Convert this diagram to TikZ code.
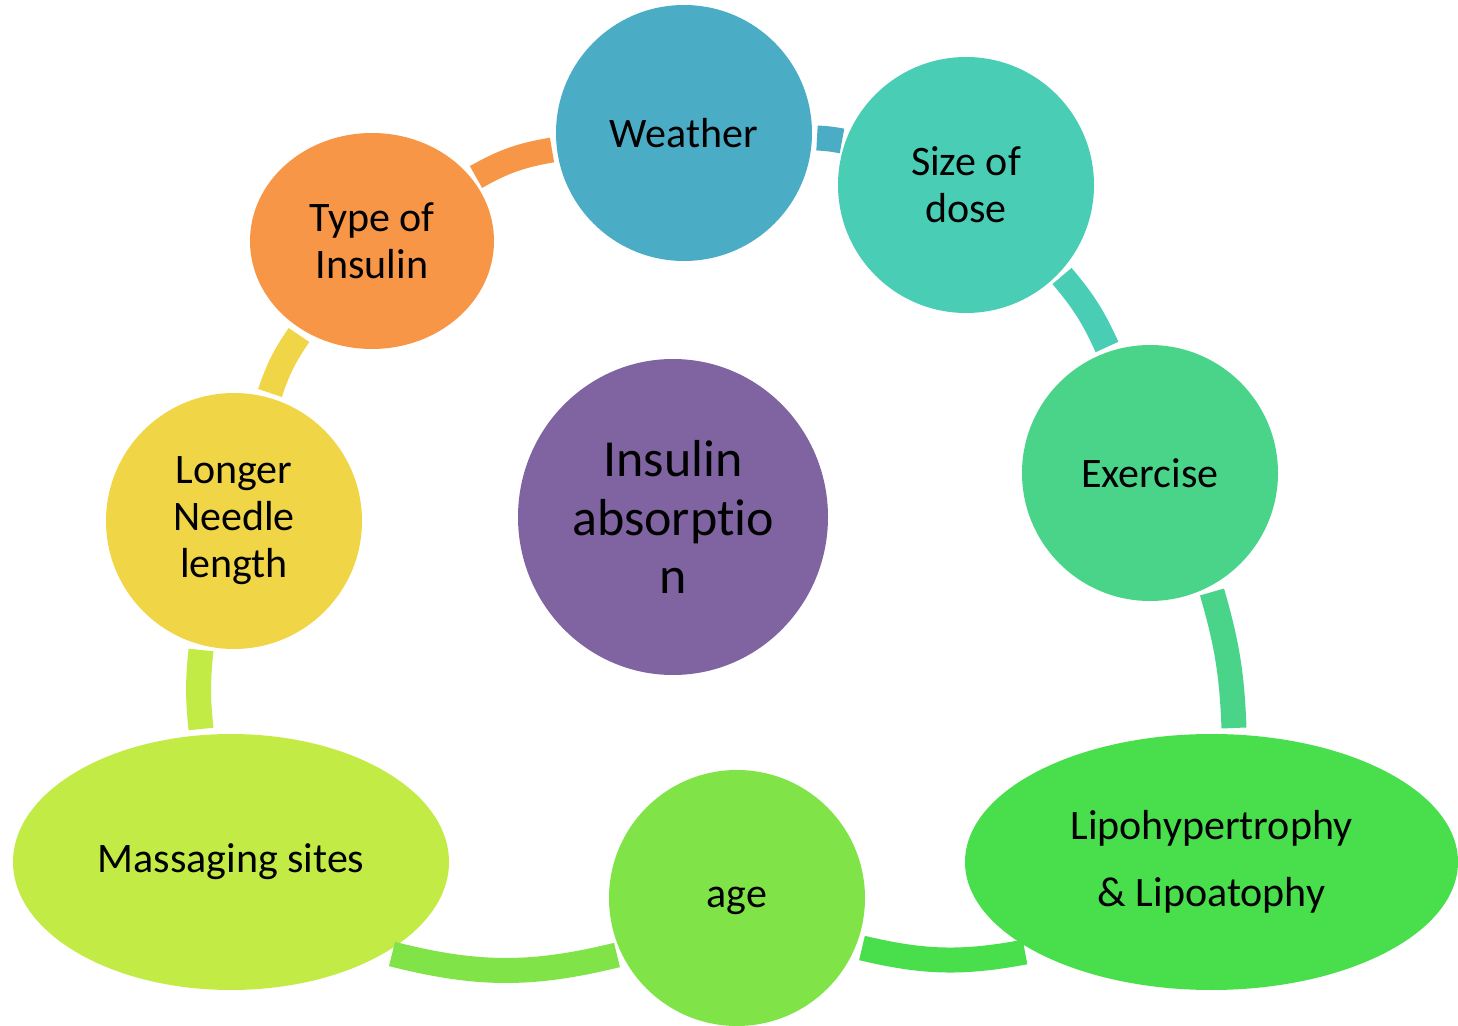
\documentclass[tikz,border=0pt]{standalone}
\usepackage{fontspec}
\setmainfont{Carlito}[Ligatures=NoCommon]
\usetikzlibrary{shapes.geometric}
\definecolor{cWea}{HTML}{4BACC6}
\definecolor{cSiz}{HTML}{4ACDB5}
\definecolor{cExe}{HTML}{49D48A}
\definecolor{cLip}{HTML}{49DE4C}
\definecolor{cAge}{HTML}{80E448}
\definecolor{cMas}{HTML}{C3EB46}
\definecolor{cLon}{HTML}{F0D647}
\definecolor{cTyp}{HTML}{F79646}
\definecolor{cCen}{HTML}{8064A2}
\tikzset{
  bubble/.style={circle, minimum size=128pt, inner sep=0pt, align=center,
    font=\fontsize{21}{23.5}\selectfont, text=black},
  oval/.style={ellipse, inner sep=0pt, align=center,
    font=\fontsize{21}{23.5}\selectfont, text=black},
  band/.style={line width=12.5pt, line cap=butt}
}
\begin{document}
\begin{tikzpicture}[x=0.5pt,y=-0.5pt]
\path[use as bounding box] (0,0) rectangle (1458,1026);
% nodes
\node[bubble, fill=cWea] (wea) at (684,133) {Weather};
\node[bubble, fill=cSiz] (siz) at (966,185) {Size of\\dose};
\node[bubble, fill=cExe] (exe) at (1150,473) {Exercise};
\node[oval, fill=cLip, minimum width=246.5pt, minimum height=128pt,
  font=\fontsize{21}{33.5}\selectfont] (lip) at (1211.5,862) {Lipohypertrophy\\\& Lipoatophy};
\node[bubble, fill=cAge] (age) at (737,898) {age\vphantom{A}};
\node[oval, fill=cMas, minimum width=218pt, minimum height=128pt] (mas) at (231,862) {Massaging sites};
\node[bubble, fill=cLon] (lon) at (234,521) {Longer\\Needle\\length};
\node[oval, fill=cTyp, minimum width=122pt, minimum height=108pt] (typ) at (372,241) {Type of\\Insulin};
\node[oval, fill=cCen, minimum width=155pt, minimum height=158pt,
  font=\fontsize{26}{29.25}\selectfont] (cen) at (673,517) {Insulin\\absorpt\kern0pt io\\n};
% connector end points
\coordinate (a1) at (476,177); \coordinate (b1) at (552,150);
\coordinate (a2) at (817,138); \coordinate (b2) at (842,141);
\coordinate (a3) at (1062,276); \coordinate (b3) at (1107,347);
\coordinate (a4) at (1212,592); \coordinate (b4) at (1234,728);
\coordinate (a5) at (1025,952); \coordinate (b5) at (862,948);
\coordinate (a6) at (617,955); \coordinate (b6) at (392,954);
\coordinate (a7) at (201,729); \coordinate (b7) at (201,650);
\coordinate (a8) at (270,393); \coordinate (b8) at (299,335);
% connectors
\draw[band, cTyp] (a1) to[bend left=10] (b1);
\draw[band, cWea] (a2) to[bend left=4] (b2);
\draw[band, cSiz] (a3) to[bend left=8] (b3);
\draw[band, cExe] (a4) to[bend left=7] (b4);
\draw[band, cLip] (a5) to[bend left=12] (b5);
\draw[band, cAge] (a6) to[bend left=14] (b6);
\draw[band, cMas] (a7) to[bend left=6] (b7);
\draw[band, cLon] (a8) to[bend left=8] (b8);
\end{tikzpicture}
\end{document}
